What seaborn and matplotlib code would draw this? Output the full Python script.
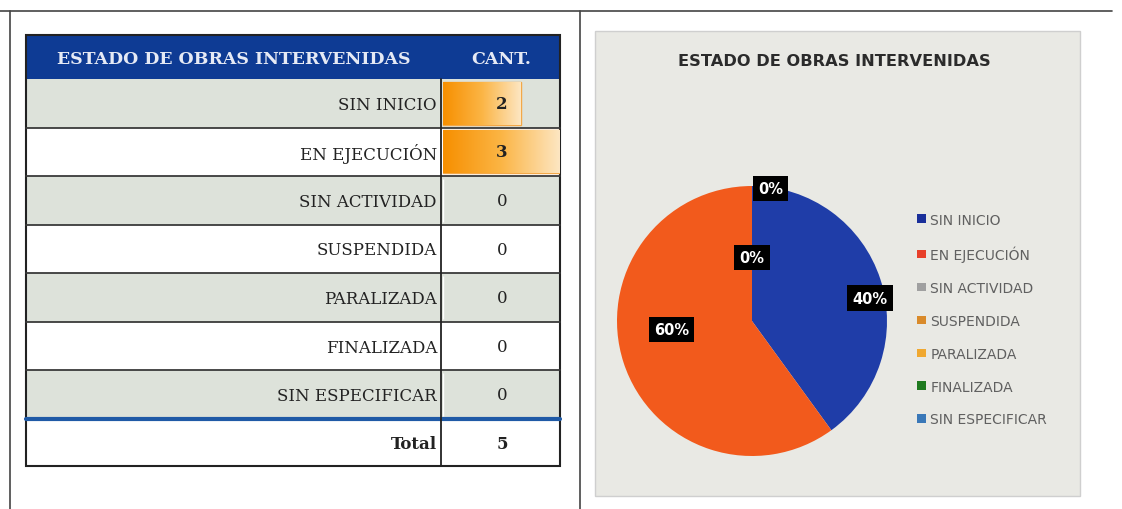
import matplotlib
matplotlib.use("Agg")
import matplotlib.pyplot as plt
import seaborn as sns
import numpy as np
from matplotlib.patches import Rectangle, Patch
from matplotlib.colors import LinearSegmentedColormap

# ---------------- data ----------------
categories = ["SIN INICIO", "EN EJECUCIÓN", "SIN ACTIVIDAD", "SUSPENDIDA",
              "PARALIZADA", "FINALIZADA", "SIN ESPECIFICAR"]
counts = [2, 3, 0, 0, 0, 0, 0]
table_title = "ESTADO DE OBRAS INTERVENIDAS"
count_header = "CANT."
total_label = "Total"
chart_title = "ESTADO DE OBRAS INTERVENIDAS"

# ---------------- style ----------------
slice_colors = ["#1f3da8", "#f25a1c", "#a5a5a5", "#d9822b", "#f0a22e", "#2f8a2f", "#3f7fbf"]
legend_colors = ["#1a2f9a", "#e8402a", "#a0a0a0", "#d98a2a", "#f0a830", "#1f7a1f", "#3a78b8"]
header_blue = "#0e3b94"
row_gray = "#dde2da"
panel_bg = "#e9e9e4"

sns.set_theme(style="white")
plt.rcParams["font.family"] = ["DejaVu Sans"]

W, H = 1122, 510
fig = plt.figure(figsize=(W / 100, H / 100), dpi=100)
fig.patch.set_facecolor("white")


def px_axes(x, y, w, h, z=1):
    ax = fig.add_axes([x / W, 1 - (y + h) / H, w / W, h / H])
    ax.set_zorder(z)
    return ax


bg = px_axes(0, 0, W, H, 0)
bg.set_xlim(0, W)
bg.set_ylim(H, 0)
bg.axis("off")

# outer scan frame
bg.plot([0, 1112], [12, 12], color="#444", lw=1.2)
bg.plot([10, 10], [12, H], color="#444", lw=1.2)
bg.plot([580, 580], [12, H], color="#444", lw=1.2)

# ---------------- table ----------------
tx0, tx1, colx = 26, 560, 441
hy0, hy1 = 36, 80
n = len(categories)
ry1 = 420
rh = (ry1 - hy1) / n
toty = 467
serif = ["DejaVu Serif"]
row_fs = 12

bg.add_patch(Rectangle((tx0, hy0), tx1 - tx0, hy1 - hy0, fc=header_blue, ec="none"))
bg.text(234, (hy0 + hy1) / 2 + 1, table_title, color="#e6eaf5", fontsize=12.5,
        fontweight="bold", family=serif, ha="center", va="center")
bg.text(501, (hy0 + hy1) / 2 + 1, count_header, color="#e6eaf5", fontsize=12.5,
        fontweight="bold", family=serif, ha="center", va="center")

for i, cat in enumerate(categories):
    y0 = hy1 + i * rh
    if i % 2 == 0:
        bg.add_patch(Rectangle((tx0, y0), tx1 - tx0, rh, fc=row_gray, ec="none"))
    bg.plot([tx0, tx1], [y0 + rh, y0 + rh], color="#3a3a3a", lw=1.3)
    bg.text(437, y0 + rh / 2 + 1, cat, fontsize=row_fs, family=serif, color="#222",
            ha="right", va="center")

# total row
bg.plot([tx0, tx1], [ry1, ry1], color="#1f5aa6", lw=3)
bg.text(437, (ry1 + toty) / 2 + 1, total_label, fontsize=row_fs, family=serif,
        fontweight="bold", color="#222", ha="right", va="center")
bg.text(502, (ry1 + toty) / 2 + 1, str(sum(counts)), fontsize=row_fs, family=serif,
        fontweight="bold", color="#222", ha="center", va="center")
bg.plot([colx, colx], [hy1, toty], color="#222", lw=1.3)
bg.add_patch(Rectangle((tx0, hy0), tx1 - tx0, toty - hy0, fc="none", ec="#222", lw=1.5))

# data bars in CANT column (seaborn)
bax = px_axes(colx + 2, hy1, tx1 - colx - 2, ry1 - hy1, 2)
sns.barplot(x=counts, y=categories, orient="h", ax=bax, color="#f7941d", width=0.88)
grad = LinearSegmentedColormap.from_list("g", ["#f78f00", "#fbb545", "#fde6c2"])
for p in bax.patches:
    x0, y0 = p.get_x(), p.get_y()
    w, h = p.get_width(), p.get_height()
    if w <= 0:
        continue
    im = bax.imshow(np.linspace(0, 1, 256).reshape(1, -1), cmap=grad, aspect="auto",
                    extent=(x0, x0 + w, y0 + h, y0), zorder=p.get_zorder() + 0.1)
    im.set_clip_path(p)
    p.set_edgecolor("#f3a848")
bax.set_xlim(0, max(counts))
bax.set_ylim(n - 0.5, -0.5)
bax.axis("off")
bax.patch.set_alpha(0)

num_x = max(counts) * (502 - colx - 2) / (tx1 - colx - 2)
for i, v in enumerate(counts):
    bax.text(num_x, i, str(v), fontsize=row_fs, family=serif,
             fontweight="bold" if v else "normal", color="#222",
             ha="center", va="center", zorder=10)

# ---------------- pie panel ----------------
bg.add_patch(Rectangle((595, 32), 485, 465, fc=panel_bg, ec="#cfcfcf", lw=1))
bg.text(834, 61, chart_title, fontsize=11.7, fontweight="bold", color="#2b2b2b",
        ha="center", va="center")

pax = px_axes(617, 187, 270, 270, 3)
wedges, _ = pax.pie(counts, colors=slice_colors, startangle=90, counterclock=False,
                    radius=1, wedgeprops=dict(linewidth=0))
pax.set_xlim(-1, 1)
pax.set_ylim(-1, 1)
pax.set_aspect("equal")
pax.patch.set_alpha(0)

total = sum(counts)
label_pos = [(0.89, -7), (0.6, -12), (0.47, 0), (0.99, -8), (0.99, -8), (0.99, -8), (0.99, -8)]
for wdg, v, (dist, off) in zip(wedges, counts, label_pos):
    mid = np.deg2rad((wdg.theta1 + wdg.theta2) / 2 + off)
    pax.text(dist * np.cos(mid), dist * np.sin(mid), f"{v / total * 100:.0f}%",
             color="white", fontsize=10.5, fontweight="bold", ha="center", va="center",
             bbox=dict(boxstyle="square,pad=0.35", fc="black", ec="none"), zorder=10)

handles = [Patch(fc=c, ec="none") for c in legend_colors]
fig.legend(handles, categories, loc="upper left", bbox_to_anchor=(911 / W, 1 - 208 / H),
           frameon=False, fontsize=10, labelcolor="#606060", handlelength=0.65,
           handleheight=0.55, handletextpad=0.35, labelspacing=1.36, borderaxespad=0)

fig.savefig("out.png", dpi=100, facecolor="white")
